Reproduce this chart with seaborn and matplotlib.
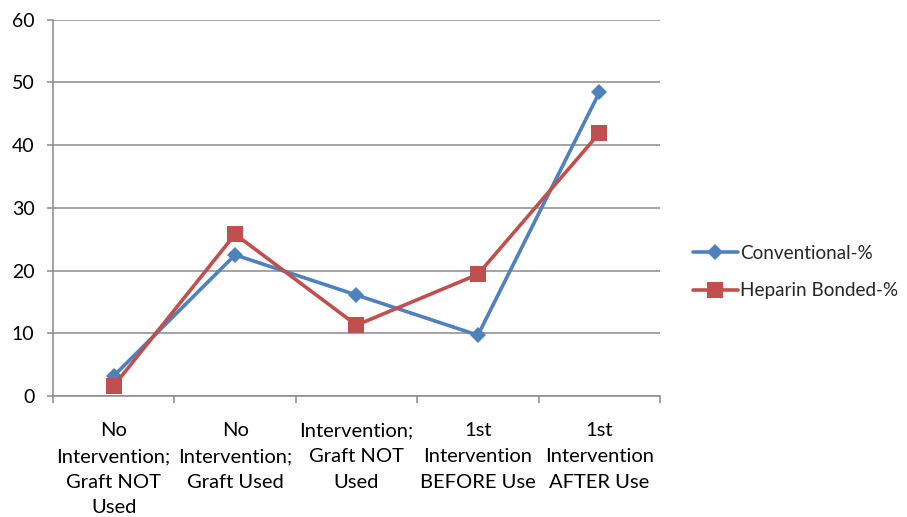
import matplotlib
matplotlib.use("Agg")
import matplotlib.pyplot as plt
import seaborn as sns
import pandas as pd
from matplotlib.ticker import FixedLocator, MultipleLocator

categories = [
    "No\nIntervention;\nGraft NOT\nUsed",
    "No\nIntervention;\nGraft Used",
    "Intervention;\nGraft NOT\nUsed",
    "1st\nIntervention\nBEFORE Use",
    "1st\nIntervention\nAFTER Use",
]
conventional = [3.2, 22.5, 16.1, 9.7, 48.4]
heparin = [1.6, 25.8, 11.3, 19.4, 41.9]
series_names = ["Conventional-%", "Heparin Bonded-%"]

df = pd.DataFrame({
    "category": categories * 2,
    "value": conventional + heparin,
    "series": [series_names[0]] * len(categories) + [series_names[1]] * len(categories),
})

sns.set_theme(style="white")
plt.rcParams["font.family"] = ["Lato", "DejaVu Sans"]

fig = plt.figure(figsize=(9.07, 5.17), dpi=100)
ax = fig.add_axes([0.0584, 0.234, 0.6693, 0.728])

palette = {series_names[0]: "#4F81BD", series_names[1]: "#C0504D"}
sns.lineplot(data=df, x="category", y="value", hue="series", style="series",
             markers={series_names[0]: "D", series_names[1]: "s"},
             dashes=False, palette=palette, linewidth=2.6, ax=ax,
             sort=False)
for line in ax.lines:
    if line.get_marker() == "D":
        line.set_markersize(8)
    elif line.get_marker() == "s":
        line.set_markersize(11)
    line.set_markeredgewidth(0)

ax.set_xlim(-0.5, 4.5)
ax.set_ylim(0, 60)
ax.yaxis.set_major_locator(MultipleLocator(10))
ax.grid(axis="y", color="#8a8a8a", linewidth=1.1)
ax.set_axisbelow(True)
ax.set_xlabel("")
ax.set_ylabel("")
for s in ["top", "right"]:
    ax.spines[s].set_visible(False)
for s in ["left", "bottom"]:
    ax.spines[s].set_color("#8a8a8a")
    ax.spines[s].set_linewidth(1.1)

ax.set_xticks(range(len(categories)))
ax.set_xticklabels(categories, fontsize=14.5, linespacing=1.62, color="black")
ax.tick_params(axis="x", which="major", length=0, pad=19)
ax.xaxis.set_minor_locator(FixedLocator([-0.5, 0.5, 1.5, 2.5, 3.5, 4.5]))
ax.tick_params(axis="x", which="minor", bottom=True, length=5, width=1.1, color="#8a8a8a")
ax.tick_params(axis="y", which="major", left=True, length=4.3, width=1.1, color="#8a8a8a",
               labelsize=14, labelcolor="black", pad=9)

handles, labels = ax.get_legend_handles_labels()
leg = ax.legend(handles, labels, loc="center left", bbox_to_anchor=(0.745, 0.474),
                bbox_transform=fig.transFigure, frameon=False, fontsize=13.6,
                handlelength=2.4, labelspacing=1.1, handletextpad=0.1)
for h in leg.legend_handles:
    h.set_linewidth(2.6)

fig.savefig("out.png", dpi=100)
